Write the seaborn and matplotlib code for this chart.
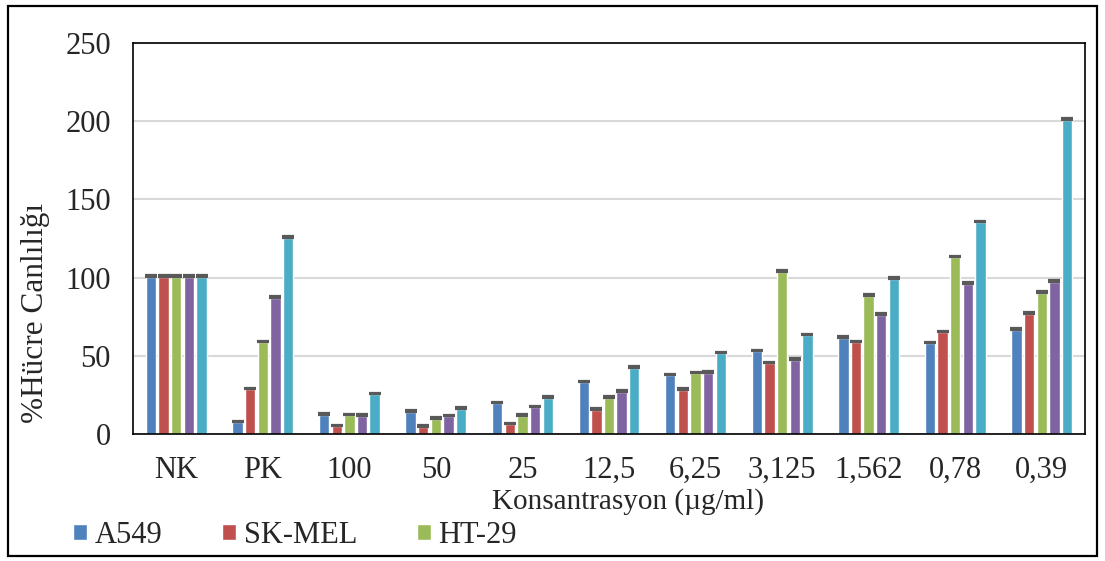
import pandas as pd
import seaborn as sns
import matplotlib.pyplot as plt
from matplotlib.patches import Rectangle
from matplotlib.ticker import FixedLocator

# Konsantrasyon kategorileri
categories = ["NK", "PK", "100", "50", "25", "12,5", "6,25", "3,125", "1,562", "0,78", "0,39"]

# Hücre hatlari (son ikisi legendde gorunmuyor)
series_names = ["A549", "SK-MEL", "HT-29", "Seri 4", "Seri 5"]

a549 = [100.4, 7.5, 12.4, 14.1, 19.7, 33.1, 37.6, 52.8, 61.5, 58.1, 66.7]
sk_mel = [100.4, 28.6, 4.9, 4.7, 6.2, 15.6, 28.2, 45.1, 58.5, 64.9, 76.7]
ht29 = [100.4, 58.5, 12.0, 9.8, 11.8, 23.3, 38.7, 103.8, 88.5, 113.0, 90.2]
seri4 = [100.4, 87.0, 11.5, 11.3, 17.1, 26.9, 39.3, 47.6, 76.3, 96.0, 97.4]
seri5 = [100.4, 125.4, 25.4, 16.2, 23.3, 42.5, 51.5, 63.0, 99.2, 135.4, 200.8]

# standart sapma (cok kucuk)
err = [1.0, 1.0, 1.0, 1.0, 1.0]

colors = ["#4F81BD", "#C0504D", "#9BBB59", "#8064A2", "#4BACC6"]

values = [a549, sk_mel, ht29, seri4, seri5]
rows = []
for name, vals in zip(series_names, values):
    for cat, v in zip(categories, vals):
        rows.append({"Konsantrasyon": cat, "Hücre": name, "Canlilik": v})
df = pd.DataFrame(rows)

sns.set_style("white")
plt.rcParams["font.family"] = ["Liberation Serif", "DejaVu Serif"]

fig = plt.figure(figsize=(11.05, 5.61), dpi=100)
ax = fig.add_axes([0.1204, 0.2264, 0.8615, 0.697])

sns.barplot(data=df, x="Konsantrasyon", y="Canlilik", hue="Hücre",
            palette=colors, errorbar=None, width=0.73, gap=0.18,
            saturation=1, ax=ax)

# hata cubuklari
bar_conts = list(ax.containers)
for i, cont in enumerate(bar_conts):
    xs = [p.get_x() + p.get_width() / 2 for p in cont.patches]
    hs = [p.get_height() for p in cont.patches]
    ax.errorbar(xs, hs, yerr=[[0] * len(hs), [err[i]] * len(hs)], fmt="none",
                ecolor="#595959", elinewidth=1.0, capsize=4, capthick=1.6, zorder=3)

ax.set_ylim(0, 250)
ax.set_xlim(-0.5, len(categories) - 0.5)
ax.set_yticks([0, 50, 100, 150, 200, 250])
ax.yaxis.grid(True, color="#d9d9d9", linewidth=1.5)
ax.set_axisbelow(True)

for s in ax.spines.values():
    s.set_color("black")
    s.set_linewidth(1.2)
    s.set_visible(True)

ax.tick_params(axis="y", length=0, labelsize=22, pad=16)
ax.tick_params(axis="x", which="major", length=0, labelsize=22, pad=16)
ax.xaxis.set_minor_locator(FixedLocator([i - 0.5 for i in range(len(categories) + 1)]))
ax.tick_params(axis="x", which="minor", length=8, width=1.5, direction="out", color="black")

ax.set_xlabel("Konsantrasyon (µg/ml)", fontsize=21)
ax.xaxis.set_label_coords(0.52, -0.138)
ax.set_ylabel("%Hücre Canlılığı", fontsize=22.5)
ax.yaxis.set_label_coords(-0.087, 0.31)

handles, labels = ax.get_legend_handles_labels()
ax.legend(handles[:3], labels[:3], ncol=3, fontsize=22, frameon=False,
          loc="center left", bbox_to_anchor=(0.066, 0.046),
          bbox_transform=fig.transFigure, handlelength=0.46, handleheight=0.46,
          handletextpad=0.25, columnspacing=1.95, borderpad=0, borderaxespad=0)

# dis cerceve
fig.add_artist(Rectangle((0.007, 0.009), 0.9855, 0.98, transform=fig.transFigure,
                         fill=False, edgecolor="black", linewidth=1.6))

plt.savefig("out.png", dpi=100)
